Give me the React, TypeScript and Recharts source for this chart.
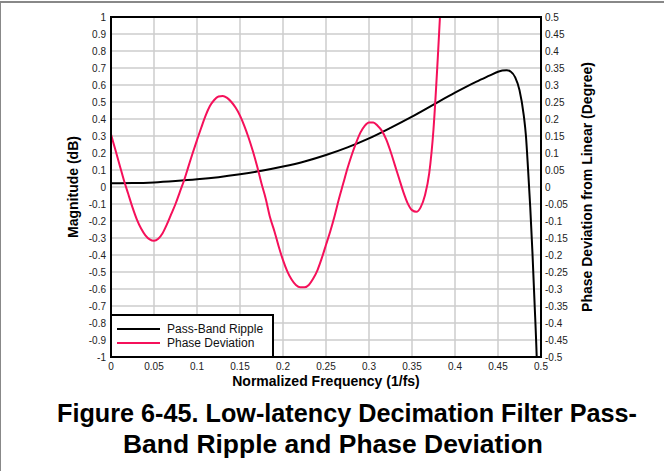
import { CartesianGrid, Line, LineChart, XAxis, YAxis } from "recharts";

const magFreq = [
  0, 0.025, 0.05, 0.075, 0.1, 0.125, 0.15, 0.175, 0.2, 0.225, 0.25, 0.275, 0.3, 0.325, 0.35,
  0.375, 0.4, 0.425, 0.44, 0.45, 0.455, 0.46, 0.465, 0.47, 0.475, 0.48, 0.4825, 0.485, 0.4875,
  0.49, 0.4925, 0.495, 0.4975, 0.5
];
const magValues = [
  0.022, 0.023, 0.027, 0.035, 0.045, 0.058, 0.075, 0.095, 0.12, 0.15, 0.188, 0.233, 0.286, 0.348,
  0.414, 0.485, 0.555, 0.62, 0.655, 0.678, 0.685, 0.687, 0.678, 0.645, 0.57, 0.42, 0.3, 0.1, -0.12,
  -0.38, -0.68, -1.0, -1.5, -2.2
];

const phaseFreq = [
  0, 0.005, 0.01, 0.015, 0.02, 0.025, 0.03, 0.035, 0.04, 0.045, 0.05, 0.055, 0.06, 0.065, 0.07,
  0.075, 0.08, 0.085, 0.09, 0.095, 0.1, 0.105, 0.11, 0.115, 0.12, 0.125, 0.13, 0.135, 0.14, 0.145,
  0.15, 0.155, 0.16, 0.165, 0.17, 0.175, 0.18, 0.185, 0.19, 0.195, 0.2, 0.205, 0.21, 0.215, 0.22,
  0.225, 0.23, 0.235, 0.24, 0.245, 0.25, 0.255, 0.26, 0.265, 0.27, 0.275, 0.28, 0.285, 0.29, 0.295,
  0.3, 0.305, 0.31, 0.315, 0.32, 0.325, 0.33, 0.335, 0.34, 0.345, 0.35, 0.355, 0.36, 0.365, 0.37,
  0.375, 0.38, 0.385, 0.39
];
const phaseValues = [
  0.155, 0.11, 0.065, 0.02, -0.02, -0.06, -0.095, -0.122, -0.142, -0.154, -0.158, -0.152, -0.136,
  -0.11, -0.08, -0.05, -0.015, 0.02, 0.06, 0.1, 0.138, 0.175, 0.21, 0.238, 0.256, 0.266, 0.268,
  0.262, 0.25, 0.233, 0.21, 0.18, 0.145, 0.105, 0.06, 0.01, -0.035, -0.09, -0.13, -0.175, -0.215,
  -0.248, -0.272, -0.288, -0.295, -0.295, -0.288, -0.27, -0.245, -0.21, -0.17, -0.13, -0.085,
  -0.035, 0.01, 0.055, 0.095, 0.13, 0.16, 0.18, 0.19, 0.19, 0.18, 0.165, 0.14, 0.105, 0.065, 0.025,
  -0.015, -0.048, -0.068, -0.073, -0.06, -0.025, 0.04, 0.17, 0.38, 0.62, 0.9
];

const xTicks = [0, 0.05, 0.1, 0.15, 0.2, 0.25, 0.3, 0.35, 0.4, 0.45, 0.5];
const magTicks = [
  -1, -0.9, -0.8, -0.7, -0.6, -0.5, -0.4, -0.3, -0.2, -0.1, 0, 0.1, 0.2, 0.3, 0.4, 0.5, 0.6, 0.7,
  0.8, 0.9, 1
];
const phaseTicks = [
  -0.5, -0.45, -0.4, -0.35, -0.3, -0.25, -0.2, -0.15, -0.1, -0.05, 0, 0.05, 0.1, 0.15, 0.2, 0.25,
  0.3, 0.35, 0.4, 0.45, 0.5
];

const MAG_COLOR = "#000000";
const PHASE_COLOR = "#f5105a";
const FONT = "'Liberation Sans', Arial, Helvetica, sans-serif";

const magData = magFreq.map((f, i) => ({ f, v: magValues[i] }));
const phaseData = phaseFreq.map((f, i) => ({ f, v: phaseValues[i] }));

const tickStyle = { fontSize: 10, fill: "#222", fontFamily: FONT };

export default function App() {
  return (
    <div style={{ position: "absolute", left: 0, top: 0, width: 664, height: 471, background: "#fff" }}>
      <LineChart
        width={664}
        height={471}
        margin={{ top: 17, left: 71, right: 83, bottom: 84 }}
      >
        <CartesianGrid yAxisId="mag" stroke="#cccccc" strokeWidth={1.5} />
        <XAxis
          dataKey="f"
          type="number"
          domain={[0, 0.5]}
          ticks={xTicks}
          allowDataOverflow
          height={30}
          axisLine={false}
          tickLine={false}
          tickSize={0}
          tickMargin={6}
          tick={tickStyle}
          tickFormatter={(v) => String(v)}
        />
        <YAxis
          yAxisId="mag"
          orientation="left"
          domain={[-1, 1]}
          ticks={magTicks}
          allowDataOverflow
          width={40}
          axisLine={false}
          tickLine={false}
          tickSize={0}
          tickMargin={5}
          tick={tickStyle}
          interval={0}
          tickFormatter={(v) => String(v)}
        />
        <YAxis
          yAxisId="ph"
          orientation="right"
          domain={[-0.5, 0.5]}
          ticks={phaseTicks}
          allowDataOverflow
          width={40}
          axisLine={false}
          tickLine={false}
          tickSize={0}
          tickMargin={4}
          tick={tickStyle}
          interval={0}
          tickFormatter={(v) => String(v)}
        />
        <Line
          yAxisId="mag"
          data={magData}
          dataKey="v"
          type="monotone"
          stroke={MAG_COLOR}
          strokeWidth={2}
          dot={false}
          isAnimationActive={false}
        />
        <Line
          yAxisId="ph"
          data={phaseData}
          dataKey="v"
          type="monotone"
          stroke={PHASE_COLOR}
          strokeWidth={2}
          dot={false}
          isAnimationActive={false}
        />
      </LineChart>
      <svg
        width={664}
        height={471}
        style={{ position: "absolute", left: 0, top: 0, pointerEvents: "none" }}
        fontFamily={FONT}
      >
        {/* page frame */}
        <line x1={0} y1={2} x2={664} y2={2} stroke="#888" strokeWidth={2} />
        <line x1={0.5} y1={2} x2={0.5} y2={471} stroke="#888" strokeWidth={1} />
        {/* plot border */}
        <rect x={111} y={17} width={430} height={340} fill="none" stroke="#000" strokeWidth={2} />
        {/* legend */}
        <rect x={111} y={315} width={162} height={42} fill="#fff" stroke="#000" strokeWidth={2} />
        <line x1={117} y1={329} x2={160} y2={329} stroke={MAG_COLOR} strokeWidth={2} />
        <text x={167} y={333} fontSize={12} fill="#111">Pass-Band Ripple</text>
        <line x1={117} y1={343} x2={160} y2={343} stroke={PHASE_COLOR} strokeWidth={2} />
        <text x={167} y={347} fontSize={12} fill="#111">Phase Deviation</text>
        {/* axis titles */}
        <text x={326} y={386} fontSize={14} fontWeight="bold" textAnchor="middle" fill="#000">
          Normalized Frequency (1/fs)
        </text>
        <text
          x={0}
          y={0}
          transform="translate(78,187) rotate(-90)"
          fontSize={14}
          fontWeight="bold"
          textAnchor="middle"
          fill="#000"
        >
          Magnitude (dB)
        </text>
        <text
          x={0}
          y={0}
          transform="translate(592,187) rotate(-90)"
          fontSize={14}
          fontWeight="bold"
          textAnchor="middle"
          fill="#000"
        >
          Phase Deviation from Linear (Degree)
        </text>
        {/* figure caption */}
        <text
          x={57}
          y={421.5}
          fontSize={26}
          fontWeight="bold"
          fill="#000"
          textLength={580}
          lengthAdjust="spacingAndGlyphs"
        >
          Figure 6-45. Low-latency Decimation Filter Pass-
        </text>
        <text
          x={123}
          y={453}
          fontSize={26}
          fontWeight="bold"
          fill="#000"
          textLength={420}
          lengthAdjust="spacingAndGlyphs"
        >
          Band Ripple and Phase Deviation
        </text>
      </svg>
    </div>
  );
}
